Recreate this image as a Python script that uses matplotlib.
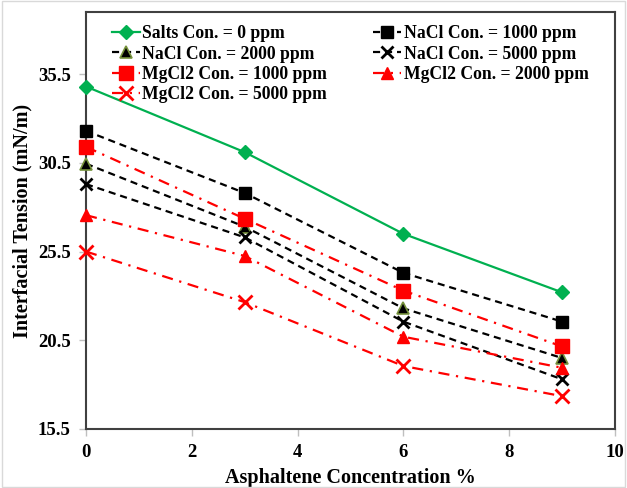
import matplotlib
matplotlib.use("Agg")
import matplotlib.pyplot as plt

plt.rcParams['font.family'] = ['Liberation Serif', 'DejaVu Serif']
plt.rcParams['font.weight'] = 'bold'

# Asphaltene concentration (%)
asphaltene = [0, 3, 6, 9]

# Interfacial tension (mN/m) for each brine
salts_0 = [34.8, 31.1, 26.5, 23.2]
nacl_1000 = [32.3, 28.8, 24.3, 21.55]
nacl_2000 = [30.45, 26.9, 22.3, 19.5]
nacl_5000 = [29.3, 26.3, 21.55, 18.3]
mgcl2_1000 = [31.4, 27.35, 23.3, 20.15]
mgcl2_2000 = [27.55, 25.25, 20.7, 18.95]
mgcl2_5000 = [25.5, 22.65, 19.05, 17.35]

labels = [
    "Salts Con. = 0 ppm",
    "NaCl Con. = 1000 ppm",
    "NaCl Con. = 2000 ppm",
    "NaCl Con. = 5000 ppm",
    "MgCl2 Con. = 1000 ppm",
    "MgCl2 Con. = 2000 ppm",
    "MgCl2 Con. = 5000 ppm",
]

x_ticks = [0, 2, 4, 6, 8, 10]
y_ticks = [15.5, 20.5, 25.5, 30.5, 35.5]

green = "#00B050"
red = "#FF0000"
black = "#000000"
dash = (0, (3.2, 2.2))
dashdot = (0, (5, 3, 1, 3))

fig = plt.figure(figsize=(6.27, 4.88), dpi=100)
ax = fig.add_axes([86 / 627, 1 - 429 / 488, (615 - 86) / 627, (429 - 12) / 488])

common = dict(lw=1.6, clip_on=False, zorder=3)
h = []
h += ax.plot(asphaltene, salts_0, color=green, ls='-', marker='D',
             ms=7, mfc=green, mec=green, label=labels[0], **common)
h += ax.plot(asphaltene, nacl_1000, color=black, ls=dash, marker='s',
             ms=9, mfc=black, mec=black, label=labels[1], **common)
h += ax.plot(asphaltene, nacl_2000, color=black, ls=dash, marker='^',
             ms=8, mfc=black, mec='#76923C', mew=1.2, label=labels[2], **common)
h += ax.plot(asphaltene, nacl_5000, color=black, ls=dash, marker='x',
             ms=9, mew=2, mec=black, label=labels[3], **common)
h += ax.plot(asphaltene, mgcl2_1000, color=red, ls=dashdot, marker='s',
             ms=10, mfc=red, mec=red, label=labels[4], **common)
h += ax.plot(asphaltene, mgcl2_2000, color=red, ls=dashdot, marker='^',
             ms=9, mfc=red, mec=red, label=labels[5], **common)
h += ax.plot(asphaltene, mgcl2_5000, color=red, ls=dashdot, marker='x',
             ms=10, mew=2, mec=red, label=labels[6], **common)

ax.set_xlim(0, 10)
ax.set_ylim(15.5, 39.0)
ax.set_xticks(x_ticks)
ax.set_yticks(y_ticks)
ax.set_yticklabels([f"{v:.1f}" for v in y_ticks])

for s in ax.spines.values():
    s.set_color('#404040')
    s.set_linewidth(1.5)
    s.set_zorder(2)

ax.tick_params(axis='both', direction='out', length=5, width=1,
               color='#BFBFBF', labelsize=13.5, pad=6)
for t in ax.get_xticklabels() + ax.get_yticklabels():
    t.set_fontweight('bold')

ax.set_xlabel("Asphaltene Concentration %", fontsize=14.5, fontweight='bold', labelpad=5)
ax.set_ylabel("Interfacial Tension (mN/m)", fontsize=14.5, fontweight='bold', labelpad=4)

# row-wise legend order in two columns
order = [0, 2, 4, 6, 1, 3, 5]
leg = ax.legend([h[i] for i in order], [labels[i] for i in order],
                loc='upper left', ncol=2, frameon=False,
                bbox_to_anchor=(0.025, 0.998), handlelength=1.6, handletextpad=0.15,
                columnspacing=2.6, labelspacing=0.19, borderaxespad=0.3,
                prop={'weight': 'bold', 'size': 12.7})

# light chart-area border
fig.patches.append(plt.Rectangle((0.003, 0.003), 0.994, 0.994, transform=fig.transFigure,
                                 fill=False, ec='#D9D9D9', lw=1))

fig.savefig("out.png", dpi=100)
